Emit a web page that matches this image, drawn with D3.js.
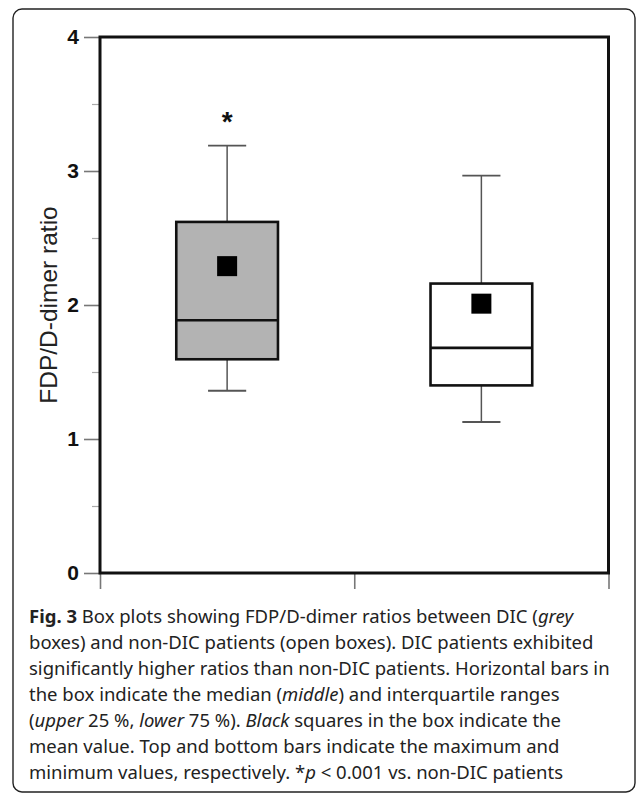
<!DOCTYPE html>
<html>
<head>
<meta charset="utf-8">
<script src="https://cdn.jsdelivr.net/npm/d3@7"></script>
<style>
  html, body { margin: 0; padding: 0; background: #fff; }
  svg { display: block; }
</style>
</head>
<body>
<div id="viz"></div>
<script>
// Box plot data (FDP/D-dimer ratio)
const groups = ['DIC', 'non-DIC'];
const fills = ['#b3b3b3', '#ffffff'];
const minVals = [1.36, 1.127];
const q1Vals = [1.595, 1.40];
const medianVals = [1.886, 1.68];
const q3Vals = [2.62, 2.16];
const maxVals = [3.19, 2.965];
const meanVals = [2.29, 2.01];
const significance = ['*', ''];

const yTicks = [0, 1, 2, 3, 4];
const yMinorTicks = [0.5, 1.5, 2.5, 3.5];
const yLabel = 'FDP/D-dimer ratio';

// caption: each line is a list of [text, style] runs
const captionLines = [
  [['Fig. 3', 'b'], [' Box plots showing FDP/D-dimer ratios between DIC (', ''], ['grey', 'i']],
  [['boxes) and non-DIC patients (open boxes). DIC patients exhibited', '']],
  [['significantly higher ratios than non-DIC patients. Horizontal bars in', '']],
  [['the box indicate the median (', ''], ['middle', 'i'], [') and interquartile ranges', '']],
  [['(', ''], ['upper', 'i'], [' 25 %, ', ''], ['lower', 'i'], [' 75 %). ', ''], ['Black', 'i'], [' squares in the box indicate the', '']],
  [['mean value. Top and bottom bars indicate the maximum and', '']],
  [['minimum values, respectively. *', ''], ['p', 'i'], [' < 0.001 vs. non-DIC patients', '']]
];

const W = 637, H = 795;
const plot = { left: 100, right: 608.5, top: 37, bottom: 573 };

const svg = d3.select('#viz').append('svg')
  .attr('width', W)
  .attr('height', H);

// outer panel
svg.append('rect')
  .attr('x', 13).attr('y', 9)
  .attr('width', 622).attr('height', 783)
  .attr('rx', 9)
  .attr('fill', '#fff')
  .attr('stroke', '#222')
  .attr('stroke-width', 1.4);

const y = d3.scaleLinear().domain([0, 4]).range([plot.bottom, plot.top]);
const xPos = d3.scaleLinear().domain([0, 2]).range([plot.left, plot.right]);
const x = d3.scaleBand().domain(groups).range([plot.left, plot.right]);
const bw = x.bandwidth();
const boxW = bw * 0.4;
const capW = bw * 0.15;

// y axis, major ticks with labels
const yAxis = svg.append('g')
  .attr('transform', `translate(${plot.left},0)`)
  .call(d3.axisLeft(y).tickValues(yTicks).tickSize(16).tickPadding(5).tickFormat(d3.format('d')));
yAxis.select('.domain').remove();
yAxis.selectAll('line').attr('stroke', '#777').attr('stroke-width', 1.6);
yAxis.selectAll('text')
  .attr('fill', '#111')
  .style('font-family', '"Liberation Sans", Arial, sans-serif')
  .style('font-size', '21px')
  .style('font-weight', 'bold');

// minor ticks
const yMinor = svg.append('g')
  .attr('transform', `translate(${plot.left},0)`)
  .call(d3.axisLeft(y).tickValues(yMinorTicks).tickSize(8).tickFormat(''));
yMinor.select('.domain').remove();
yMinor.selectAll('line').attr('stroke', '#aaa').attr('stroke-width', 1.2);

// x axis ticks below the frame, no labels
const xAxis = svg.append('g')
  .attr('transform', `translate(0,${plot.bottom})`)
  .call(d3.axisBottom(xPos).tickValues([0, 1, 2]).tickSize(16).tickFormat(''));
xAxis.select('.domain').remove();
xAxis.selectAll('line').attr('stroke', '#777').attr('stroke-width', 1.6);

// axis title
svg.append('text')
  .attr('transform', `translate(57,${y(2)}) rotate(-90)`)
  .attr('text-anchor', 'middle')
  .attr('fill', '#222')
  .style('font-family', '"Liberation Sans", Arial, sans-serif')
  .style('font-size', '24.5px')
  .text(yLabel);

// boxes
const boxes = svg.selectAll('.box')
  .data(groups)
  .join('g')
  .attr('class', 'box');

const cx = (d) => x(d) + bw / 2;

// whiskers
boxes.append('line')
  .attr('x1', cx).attr('x2', cx)
  .attr('y1', (d, i) => y(q3Vals[i]))
  .attr('y2', (d, i) => y(maxVals[i]))
  .attr('stroke', '#555').attr('stroke-width', 1.5);
boxes.append('line')
  .attr('x1', cx).attr('x2', cx)
  .attr('y1', (d, i) => y(q1Vals[i]))
  .attr('y2', (d, i) => y(minVals[i]))
  .attr('stroke', '#555').attr('stroke-width', 1.5);
// caps
boxes.append('line')
  .attr('x1', d => cx(d) - capW / 2).attr('x2', d => cx(d) + capW / 2)
  .attr('y1', (d, i) => y(maxVals[i])).attr('y2', (d, i) => y(maxVals[i]))
  .attr('stroke', '#555').attr('stroke-width', 1.8);
boxes.append('line')
  .attr('x1', d => cx(d) - capW / 2).attr('x2', d => cx(d) + capW / 2)
  .attr('y1', (d, i) => y(minVals[i])).attr('y2', (d, i) => y(minVals[i]))
  .attr('stroke', '#555').attr('stroke-width', 1.8);

// box
boxes.append('rect')
  .attr('x', d => cx(d) - boxW / 2)
  .attr('y', (d, i) => y(q3Vals[i]))
  .attr('width', boxW)
  .attr('height', (d, i) => y(q1Vals[i]) - y(q3Vals[i]))
  .attr('fill', (d, i) => fills[i])
  .attr('stroke', '#111').attr('stroke-width', 2.6);

// median
boxes.append('line')
  .attr('x1', d => cx(d) - boxW / 2).attr('x2', d => cx(d) + boxW / 2)
  .attr('y1', (d, i) => y(medianVals[i])).attr('y2', (d, i) => y(medianVals[i]))
  .attr('stroke', '#111').attr('stroke-width', 2.6);

// mean square
const sq = 20;
boxes.append('rect')
  .attr('x', d => cx(d) - sq / 2)
  .attr('y', (d, i) => y(meanVals[i]) - sq / 2)
  .attr('width', sq).attr('height', sq)
  .attr('fill', '#000');

// significance marker
boxes.append('text')
  .attr('x', cx)
  .attr('y', (d, i) => y(maxVals[i]) - 15)
  .attr('text-anchor', 'middle')
  .attr('fill', '#111')
  .style('font-family', '"Liberation Sans", Arial, sans-serif')
  .style('font-size', '28px')
  .style('font-weight', 'bold')
  .text((d, i) => significance[i]);

// plot frame
svg.append('rect')
  .attr('x', plot.left).attr('y', plot.top)
  .attr('width', plot.right - plot.left)
  .attr('height', plot.bottom - plot.top)
  .attr('fill', 'none')
  .attr('stroke', '#111')
  .attr('stroke-width', 3);

// caption
const caption = svg.append('text')
  .attr('fill', '#222')
  .style('font-family', '"Noto Sans", "Open Sans", sans-serif')
  .style('font-size', '18.5px');

captionLines.forEach((runs, li) => {
  runs.forEach((run, ri) => {
    const t = caption.append('tspan').text(run[0]);
    if (ri === 0) t.attr('x', 29).attr('y', 623 + li * 26);
    if (run[1] === 'b') t.style('font-weight', 'bold');
    if (run[1] === 'i') t.style('font-style', 'italic');
  });
});
</script>
</body>
</html>
